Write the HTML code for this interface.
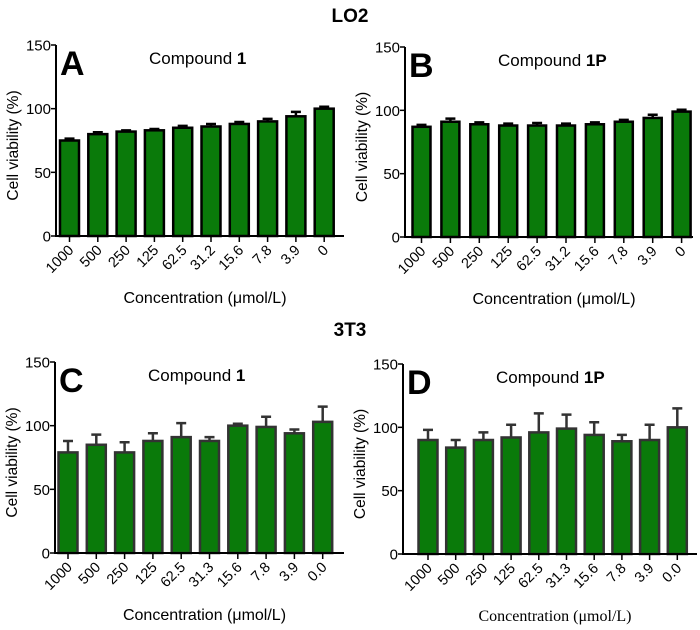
<!DOCTYPE html>
<html><head><meta charset="utf-8"><style>
body{margin:0;background:#fff;}
svg{display:block;font-family:"Liberation Sans",Arial,sans-serif;}
</style></head><body>
<svg id="chart" width="700" height="630" viewBox="0 0 700 630">
<text x="350" y="22" text-anchor="middle" font-size="19" font-weight="bold">LO2</text>
<text x="350" y="336" text-anchor="middle" font-size="19" font-weight="bold">3T3</text>
</svg>
<script>
const categoriesAB = ["1000","500","250","125","62.5","31.2","15.6","7.8","3.9","0"];
const categoriesCD = ["1000","500","250","125","62.5","31.3","15.6","7.8","3.9","0.0"];
const valuesA = [75,80,82,83,85,86,88,90,94,100];
const errorsA = [1.5,1.5,1,1,1.5,2,1.5,2,3.5,1.5];
const valuesB = [87,91,89,88,88,88,89,91,94,99];
const errorsB = [1.5,2.5,1.5,1.5,2,1.5,1.5,1.5,2.5,1.5];
const valuesC = [79,85,79,88,91,88,100,99,94,103];
const errorsC = [9,8,8,6,11,3,1.5,8,3,12];
const valuesD = [90,84,90,92,96,99,94,89,90,100];
const errorsD = [8,6,6,10,15,11,10,5,12,15];
const yTicks = [0,50,100,150];

const NS="http://www.w3.org/2000/svg";
const svg=document.getElementById('chart');
function mk(tag,attrs,parent){const e=document.createElementNS(NS,tag);for(const k in attrs)e.setAttribute(k,attrs[k]);(parent||svg).appendChild(e);return e;}

const panels=[
 {id:'a',letter:'A',comp:'1',cats:categoriesAB,vals:valuesA,errs:errorsA,x0:56,x1:344,yTop:45,yBot:236,first:69.5,step:28.3,bw:19,col:'#000',serif:false},
 {id:'b',letter:'B',comp:'1P',cats:categoriesAB,vals:valuesB,errs:errorsB,x0:405,x1:693,yTop:47,yBot:237,first:421.5,step:28.9,bw:18,col:'#000',serif:false},
 {id:'c',letter:'C',comp:'1',cats:categoriesCD,vals:valuesC,errs:errorsC,x0:55,x1:344,yTop:362,yBot:553,first:68,step:28.3,bw:19,col:'#333',serif:false},
 {id:'d',letter:'D',comp:'1P',cats:categoriesCD,vals:valuesD,errs:errorsD,x0:403,x1:697,yTop:364,yBot:554,first:428,step:27.7,bw:19,col:'#333',serif:true}
];

panels.forEach(p=>{
 const g=mk('g',{});
 
 
 const y=v=>p.yBot-(v/150)*(p.yBot-p.yTop);
 const x=i=>p.first+i*p.step;
 p.vals.forEach((v,i)=>{
  const e=p.errs[i];
  const eb=mk('path',{d:`M${x(i)},${y(v)} V${y(v+e)} M${x(i)-5},${y(v+e)} H${x(i)+5}`,stroke:p.col,'stroke-width':2.5,fill:'none'},g);
  
  
  const r=mk('rect',{x:x(i)-p.bw/2,y:y(v),width:p.bw,height:p.yBot-y(v),fill:'#0a7a0a',stroke:p.col,'stroke-width':2.5},g);
  
  
  mk('line',{x1:x(i),x2:x(i),y1:p.yBot,y2:p.yBot+6,stroke:'#000','stroke-width':1.5},g);
  const lb=mk('text',{x:x(i)+5,y:p.yBot+15,'text-anchor':'end','font-size':14.5,transform:`rotate(-45 ${x(i)+5} ${p.yBot+15})`},g);
  lb.textContent=p.cats[i];
  
  
 });
 const ax=mk('path',{d:`M${p.x0},${p.yTop} V${p.yBot} H${p.x1}`,stroke:'#000','stroke-width':2,fill:'none'},g);
 
 
 yTicks.forEach(v=>{
  mk('line',{x1:p.x0-5,x2:p.x0,y1:y(v),y2:y(v),stroke:'#000','stroke-width':1.5},g);
  const t=mk('text',{x:p.x0-5,y:y(v)+5.5,'text-anchor':'end','font-size':15},g);
  t.textContent=v;
  
  
 });
 const yl=mk('text',{x:0,y:0,'text-anchor':'middle','font-size':15.5,transform:`translate(${p.x0-38} ${(p.yTop+p.yBot)/2+5}) rotate(-90)`},g);
 yl.textContent='Cell viability (%)';
 
 
 const xl=mk('text',{x:(p.x0+p.x1)/2+5,y:p.yBot+67,'text-anchor':'middle','font-size':16},g);
 xl.textContent='Concentration (μmol/L)';
 if(p.serif) xl.setAttribute('font-family','"Liberation Serif",serif');
 
 
 const L=mk('text',{x:p.x0+4,y:p.yTop+30,'font-size':34,'font-weight':'bold'},g);
 L.textContent=p.letter;
 
 
 const c=mk('text',{x:p.x0+93,y:p.yTop+19,'font-size':17},g);
 c.textContent='Compound ';
 const b=mk('tspan',{'font-weight':'bold'},c);
 b.textContent=p.comp;
 
 
});
</script>
</body></html>
